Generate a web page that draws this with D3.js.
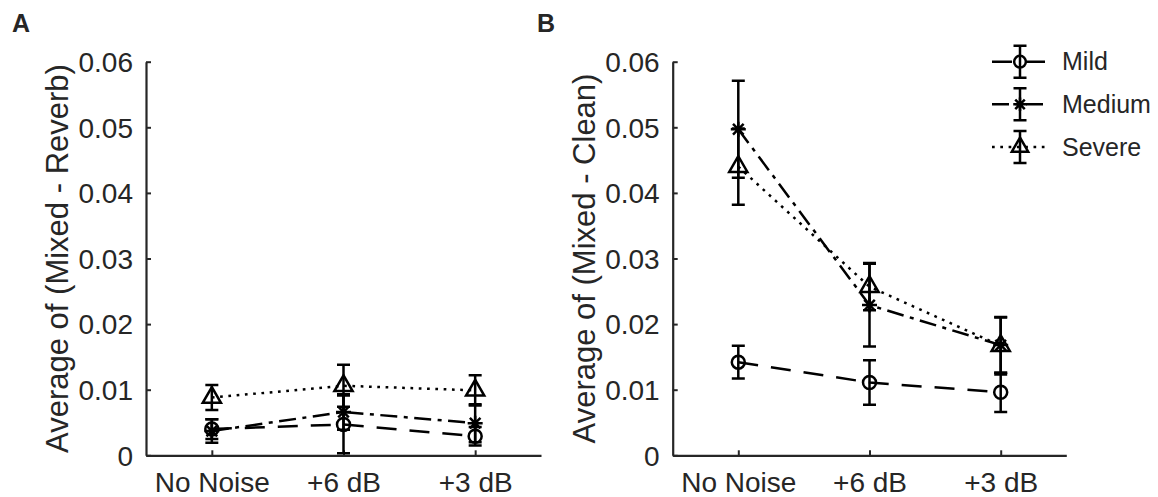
<!DOCTYPE html>
<html>
<head>
<meta charset="utf-8">
<script src="https://cdn.jsdelivr.net/npm/d3@7"></script>
<style>
  html, body { margin: 0; padding: 0; background: #fff; }
  svg { display: block; }
  text { font-family: "Liberation Sans", Arial, Helvetica, sans-serif; fill: #262626; }
</style>
</head>
<body>
<svg id="chart" width="1158" height="497"></svg>
<script>
// ---------- data ----------
const categories = ["No Noise", "+6 dB", "+3 dB"];
const yTicks = [0, 0.01, 0.02, 0.03, 0.04, 0.05, 0.06];
const yTickLabels = ["0", "0.01", "0.02", "0.03", "0.04", "0.05", "0.06"];
const seriesNames = ["Mild", "Medium", "Severe"];

// Panel A: Average of (Mixed - Reverb)
const aMild = [0.0040, 0.0047, 0.0029];
const aMildErr = [0.0015, 0.0044, 0.0014];
const aMedium = [0.0037, 0.0066, 0.0049];
const aMediumErr = [0.0018, 0.0027, 0.0029];
const aSevere = [0.0088, 0.0106, 0.0099];
const aSevereErr = [0.0019, 0.0032, 0.0023];

// Panel B: Average of (Mixed - Clean)
const bMild = [0.0142, 0.0111, 0.0096];
const bMildErr = [0.0025, 0.0034, 0.0030];
const bMedium = [0.0497, 0.0229, 0.0168];
const bMediumErr = [0.0074, 0.0063, 0.0042];
const bSevere = [0.0440, 0.0257, 0.0167];
const bSevereErr = [0.0058, 0.0036, 0.0044];

// ---------- styles ----------
const styles = {
  Mild:   { dash: "20,13", marker: "circle" },
  Medium: { dash: "17,6.5,4,6.5", marker: "star" },
  Severe: { dash: "2.7,5.6", marker: "triangle" }
};
const AX = "#262626";
const LW = 2.5;

const svg = d3.select("#chart");

function drawMarker(g, type, x, y, scale) {
  scale = scale || 1;
  if (type === "circle") {
    g.append("circle").attr("cx", x).attr("cy", y).attr("r", 6.5 * scale)
      .attr("fill", "none").attr("stroke", "#000").attr("stroke-width", LW);
  } else if (type === "triangle") {
    const r = 10.5 * scale;
    const pts = [[x, y - r], [x - 0.866 * r, y + 0.5 * r], [x + 0.866 * r, y + 0.5 * r]];
    g.append("path").attr("d", d3.line()(pts) + "Z")
      .attr("fill", "none").attr("stroke", "#000").attr("stroke-width", LW)
      .attr("stroke-linejoin", "miter");
  } else if (type === "star") {
    const r = 7.5 * scale, d = r * 0.707;
    const p = d3.path();
    p.moveTo(x - r, y); p.lineTo(x + r, y);
    p.moveTo(x, y - r); p.lineTo(x, y + r);
    p.moveTo(x - d, y - d); p.lineTo(x + d, y + d);
    p.moveTo(x - d, y + d); p.lineTo(x + d, y - d);
    g.append("path").attr("d", p.toString())
      .attr("fill", "none").attr("stroke", "#000").attr("stroke-width", LW);
  }
}

function errBar(g, x, y1, y2, cap) {
  const p = d3.path();
  p.moveTo(x, y1); p.lineTo(x, y2);
  p.moveTo(x - cap, y1); p.lineTo(x + cap, y1);
  p.moveTo(x - cap, y2); p.lineTo(x + cap, y2);
  g.append("path").attr("d", p.toString()).attr("fill", "none")
    .attr("stroke", "#000").attr("stroke-width", LW);
}

function panel(opts) {
  const g = svg.append("g");
  const x = d3.scaleLinear().domain([0.5, 3.5]).range([opts.x0, opts.x1]);
  const y = d3.scaleLinear().domain([0, 0.06]).range([455.3, 61.7]);

  const yAxis = d3.axisLeft(y).tickValues(yTicks)
    .tickFormat((d, i) => yTickLabels[i]).tickSizeInner(-5).tickSizeOuter(0).tickPadding(13);
  const gy = g.append("g").attr("transform", `translate(${opts.x0},0)`).call(yAxis);
  const xa = d3.axisBottom(x).tickValues([1, 2, 3])
    .tickFormat((d, i) => categories[i]).tickSizeInner(-5).tickSizeOuter(0).tickPadding(17);
  const gx = g.append("g").attr("transform", `translate(0,${y(0)})`).call(xa);

  [gx, gy].forEach(a => {
    a.select(".domain").attr("stroke", AX).attr("stroke-width", 2.2);
    a.selectAll(".tick line").attr("stroke", AX).attr("stroke-width", 2);
    a.selectAll(".tick text").attr("font-size", 28).attr("fill", AX)
      .attr("font-family", '"Liberation Sans", Arial, Helvetica, sans-serif');
  });
  gy.selectAll(".tick text").attr("dy", "0.35em");
  gx.selectAll(".tick text").attr("dy", "0.71em");

  g.append("text")
    .attr("transform", `translate(${opts.x0 - 78},${(y(0) + y(0.06)) / 2}) rotate(-90)`)
    .attr("text-anchor", "middle").attr("font-size", 31).text(opts.ylabel);

  g.append("text").attr("x", opts.letterX).attr("y", 32)
    .attr("font-size", 25).attr("font-weight", "bold").attr("fill", "#000").text(opts.letter);

  const series = [
    { name: "Mild", v: opts.mild, e: opts.mildErr },
    { name: "Medium", v: opts.medium, e: opts.mediumErr },
    { name: "Severe", v: opts.severe, e: opts.severeErr }
  ];

  series.forEach(s => {
    const line = d3.line().x((d, i) => x(i + 1)).y(d => y(d));
    g.append("path").attr("d", line(s.v)).attr("fill", "none")
      .attr("stroke", "#000").attr("stroke-width", LW)
      .attr("stroke-dasharray", styles[s.name].dash);
  });
  series.forEach(s => {
    s.v.forEach((d, i) => errBar(g, x(i + 1), y(d + s.e[i]), y(d - s.e[i]), 6.5));
  });
  series.forEach(s => {
    s.v.forEach((d, i) => drawMarker(g, styles[s.name].marker, x(i + 1), y(d)));
  });
  return g;
}

panel({ x0: 146, x1: 541, ylabel: "Average of (Mixed - Reverb)", letter: "A", letterX: 12,
  mild: aMild, mildErr: aMildErr, medium: aMedium, mediumErr: aMediumErr, severe: aSevere, severeErr: aSevereErr });
panel({ x0: 672.7, x1: 1066.3, ylabel: "Average of (Mixed - Clean)", letter: "B", letterX: 537,
  mild: bMild, mildErr: bMildErr, medium: bMedium, mediumErr: bMediumErr, severe: bSevere, severeErr: bSevereErr });

// legend
const leg = svg.append("g");
const legY = d3.scalePoint().domain(seriesNames).range([61.7, 147]);
seriesNames.forEach(n => {
  const yy = legY(n);
  leg.append("line").attr("x1", 992).attr("x2", 1047).attr("y1", yy).attr("y2", yy)
    .attr("stroke", "#000").attr("stroke-width", LW).attr("stroke-dasharray", styles[n].dash);
  errBar(leg, 1020, yy - 16, yy + 16, 6.5);
  drawMarker(leg, styles[n].marker, 1020, yy, 0.9);
  leg.append("text").attr("x", 1062).attr("y", yy).attr("dy", "0.35em")
    .attr("font-size", 25).attr("fill", "#000").text(n);
});
</script>
</body>
</html>
